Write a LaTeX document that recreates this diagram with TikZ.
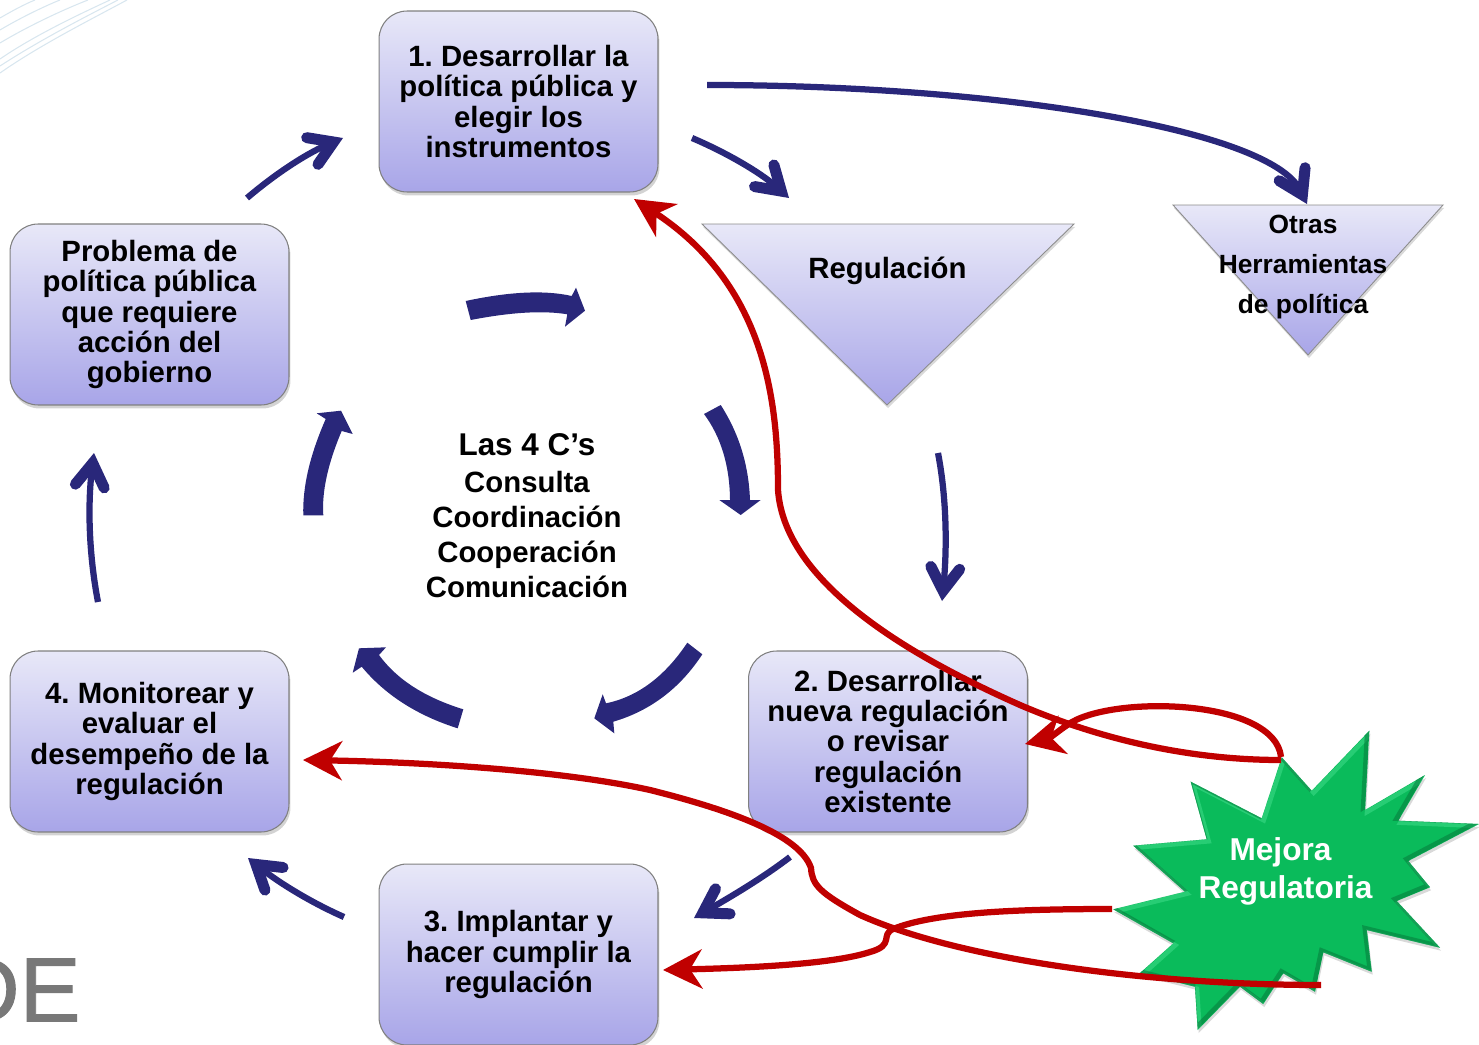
\documentclass[tikz,border=0pt]{standalone}
\usepackage{fontspec}
\setmainfont{Liberation Sans}
\newfontfamily\logofont[FakeBold=1]{Liberation Sans}
\usetikzlibrary{arrows.meta,shadows}
\definecolor{boxtop}{HTML}{E8E8F8}
\definecolor{boxbottom}{HTML}{A8A5E8}
\definecolor{navy}{HTML}{29277A}
\definecolor{redline}{HTML}{C00000}
\definecolor{stargreen}{HTML}{0ABB5B}
\definecolor{stardark}{HTML}{067A3C}
\definecolor{starlight}{HTML}{4BE394}
\definecolor{wave}{HTML}{D8E6EF}
\definecolor{logogray}{HTML}{787878}
\newcommand{\starpath}{(1281.7,757.3) -- (1311.7,790.7) -- (1369.3,730.7) -- (1365,810) -- (1425,775) -- (1398.3,820.7)
    -- (1479,824) -- (1408.3,861) -- (1430,887.3) -- (1396.7,901) -- (1440,947.7) -- (1366.7,930)
    -- (1371.7,971.7) -- (1323.3,952.3) -- (1315,991.7) -- (1283.3,973.3) -- (1263.3,1004) -- (1240,986.7)
    -- (1197.7,1030) -- (1195,986.7) -- (1140,973) -- (1173.3,943.3) -- (1113.3,909.3) -- (1185,891.7)
    -- (1133.3,845.7) -- (1206.7,839.3) -- (1190.7,781.7) -- (1261.7,818.3) -- cycle}
\begin{document}
\frenchspacing
\begin{tikzpicture}[
    x=0.02cm, y=-0.02cm,
    stage/.style={rectangle, rounded corners=0.56cm, minimum width=5.58cm, minimum height=3.62cm, inner sep=0pt, align=center, draw=black!50, line width=0.6pt, top color=boxtop, bottom color=boxbottom, drop shadow={shadow xshift=0.03cm, shadow yshift=-0.07cm, opacity=0.35}, font=\fontsize{16.7}{17.3}\selectfont\bfseries},
    tri/.style={draw=black!45, line width=0.5pt, top color=boxtop, bottom color=boxbottom, drop shadow={shadow xshift=0.02cm, shadow yshift=-0.06cm, opacity=0.3}},
    block/.style={fill=navy},
    arrow/.style={line width=0.125cm, navy, -{Straight Barb[length=0.46cm,width=0.58cm,line width=0.22cm,line cap=round,line join=miter]}},
    redarrow/.style={line width=0.125cm, redline, -{Stealth[length=0.78cm,width=0.78cm,inset=0.24cm]}},
    wavy/.style={wave, line width=0.6pt}
]

\clip (0,0) rectangle (1479,1044);

% Corner decoration
\draw[wavy] (0,73) .. controls (40,45) and (90,20) .. (127,0);
\draw[wavy] (0,66) .. controls (40,40) and (85,17) .. (118,0);
\draw[wavy] (0,59) .. controls (35,35) and (80,14) .. (110,0);
\draw[wavy] (0,43) .. controls (30,25) and (65,9) .. (88,0);
\draw[wavy] (0,30) .. controls (20,18) and (45,6) .. (60,0);
\draw[wavy] (0,18) .. controls (12,11) and (25,4) .. (35,0);

% Logo fragment
\node[anchor=east, inner sep=0pt, text=logogray, font=\fontsize{52}{52}\logofont] (logo) at (81,990) {DE};

% Steps of the cycle
\node[stage] (step1) at (518.5,101.5) {1. Desarrollar la\\política pública y\\elegir los\\instrumentos};
\node[stage] (problem) at (149.5,314.5) {Problema de\\política pública\\que requiere\\acción del\\gobierno};
\node[stage] (step4) at (149.5,741.5) {4. Monitorear y\\evaluar el\\desempeño de la\\regulación};
\node[stage] (step2) at (888,741.5) {2. Desarrollar\\nueva regulación\\o revisar\\regulación\\existente};
\node[stage] (step3) at (518.5,954.5) {3. Implantar y\\hacer cumplir la\\regulación};

% Triangles
\path[tri] (702,224) -- (1074,224) -- (887,405) -- cycle;
\path[tri] (1173,205) -- (1443,205) -- (1308,355) -- cycle;
\node[font=\fontsize{16.7}{17.3}\selectfont\bfseries] (regulation) at (887.5,271) {Regulación};
\node[font=\fontsize{15}{22.8}\selectfont\bfseries, align=center] (tools) at (1303,267) {Otras\\Herramientas\\de política};

% Star
\path[fill=stargreen, drop shadow={shadow xshift=0.02cm, shadow yshift=-0.06cm, opacity=0.3}] \starpath;
\begin{scope}
\clip \starpath;
\draw[starlight, line width=0.09cm, opacity=0.45, xshift=0.04cm, yshift=-0.04cm] \starpath;
\draw[stardark, line width=0.09cm, opacity=0.55, xshift=-0.04cm, yshift=0.04cm] \starpath;
\end{scope}
\node[text=white, align=center, font=\fontsize{18}{21.6}\selectfont\bfseries] (better) at (1285.5,871) {Mejora\hspace*{0.2cm}\\Regulatoria};

% The 4 C's
\node[align=center, font=\fontsize{16.7}{20}\selectfont\bfseries] (fourc) at (527,516) {{\fontsize{17.9}{20}\selectfont Las 4 C’s}\\[1pt]Consulta\\Coordinación\\Cooperación\\Comunicación};

% Block arrows round the 4 C's
\fill[block] (465.7,301) .. controls (509.4,291.6) and (544.7,289.9) .. (571.7,296) -- (576,287.7) -- (585,310.7) -- (565,326.7) -- (567.3,314.3) .. controls (543.1,310.3) and (510.9,312.2) .. (470.7,320) -- cycle;
\fill[block] (704,414) -- (720.7,405) .. controls (738.9,433.3) and (748.7,464.7) .. (750,500) -- (760.7,500) -- (740.7,515) -- (719.3,500) -- (730,500) .. controls (729.7,466) and (721.1,437) .. (704,414) -- cycle;
\fill[block] (687.3,642.7) -- (702.3,654.3) .. controls (680,688.4) and (650.3,710.8) .. (613.3,721.7) -- (614.3,733.3) -- (594.3,718.3) -- (602.7,694.3) -- (606,703.3) .. controls (637.6,696.8) and (664.7,676.6) .. (687.3,642.7) -- cycle;
\fill[block] (463.3,709.3) -- (457.7,728.3) .. controls (417.2,715.5) and (385.2,695) .. (361.7,666.7) -- (352.7,672.7) -- (359,648.3) -- (386,647.3) -- (379,655) .. controls (396.7,679.2) and (424.4,697.3) .. (463.3,709.3) -- cycle;
\fill[block] (303.3,515.3) -- (323.3,515.3) .. controls (321.7,491.8) and (327.8,463.7) .. (341.7,431) -- (352.7,434) -- (341,410.7) -- (316.7,413.3) -- (325.7,419) .. controls (309.9,455) and (302.4,487) .. (303.3,515.3) -- cycle;

% Free ends of the arrows
\coordinate (problemOut) at (247,198);
\coordinate (step1In) at (343,138);
\coordinate (step1Out) at (692,138);
\coordinate (regulationIn) at (789,198);
\coordinate (step1Far) at (707,85);
\coordinate (toolsIn) at (1307,204);
\coordinate (regulationOut) at (938,453);
\coordinate (step2In) at (942,601);
\coordinate (step2Out) at (790,857);
\coordinate (step3In) at (694,918);
\coordinate (step3Out) at (344,917);
\coordinate (step4In) at (248,858);
\coordinate (step4Out) at (98,602);
\coordinate (problemIn) at (94,453);
\coordinate (starTop) at (1281,760);
\coordinate (starTopB) at (1281,757);
\coordinate (starLeft) at (1112,909);
\coordinate (starLow) at (1321,985);
\coordinate (step1Red) at (634,199);
\coordinate (step2Red) at (1025,744);
\coordinate (step3Red) at (663,970);
\coordinate (step4Red) at (303,760);

% Thin arrows of the cycle
\draw[arrow] (problemOut) .. controls (280,170) and (310,152) .. (step1In);
\draw[arrow] (step1Out) .. controls (725,152) and (760,172) .. (regulationIn);
\draw[arrow] (step1Far) .. controls (1000,85) and (1270,130) .. (toolsIn);
\draw[arrow] (regulationOut) .. controls (947,500) and (947,550) .. (step2In);
\draw[arrow] (step2Out) .. controls (760,880) and (725,900) .. (step3In);
\draw[arrow] (step3Out) .. controls (310,902) and (278,882) .. (step4In);
\draw[arrow] (step4Out) .. controls (88,550) and (88,500) .. (problemIn);

% Red arrows
\draw[redarrow] (starTop) .. controls (1180,760) and (1090,735) .. (1020,705) .. controls (930,665) and (785,590) .. (778,490) .. controls (778,400) and (765,285) .. (step1Red);
\draw[redarrow] (starTopB) .. controls (1275,700) and (1120,695) .. (1072,722) .. controls (1062,728) and (1050,738) .. (step2Red);
\draw[redarrow] (starLeft) .. controls (1020,909) and (935,912) .. (893,929) .. controls (880,935) and (895,945) .. (870,952) .. controls (830,965) and (740,968) .. (step3Red);
\draw[redarrow] (starLow) .. controls (1150,985) and (960,960) .. (860,915) .. controls (820,893) and (812,885) .. (811,868) .. controls (800,835) and (730,810) .. (650,790) .. controls (560,770) and (420,762) .. (step4Red);

\end{tikzpicture}
\end{document}
